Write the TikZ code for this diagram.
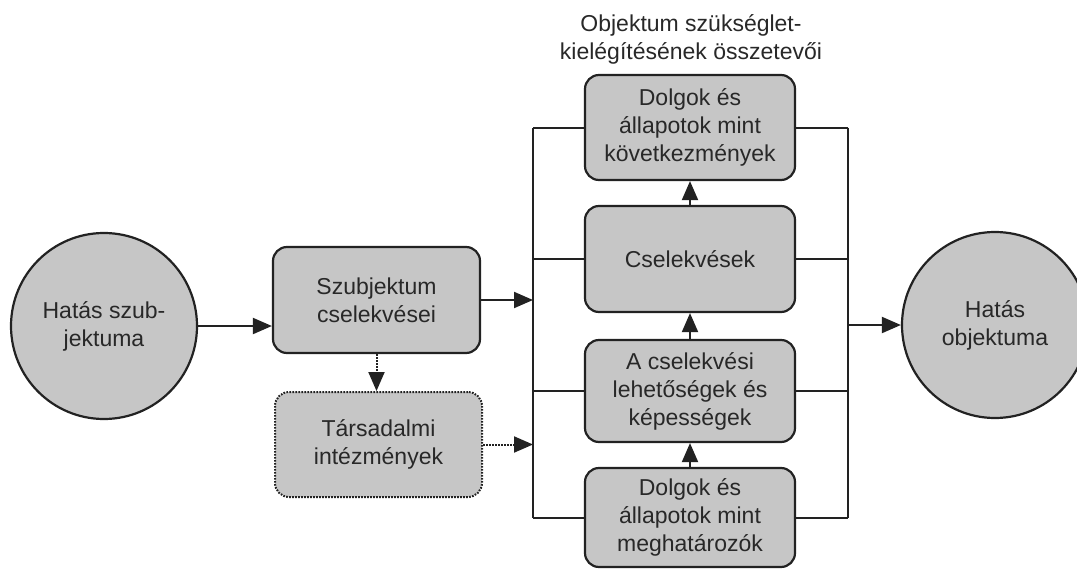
\documentclass[tikz,border=0pt]{standalone}
\usepackage{fontspec}
\setmainfont{Liberation Sans}
\usetikzlibrary{arrows.meta,calc}
\definecolor{fillg}{RGB}{198,198,198}
\definecolor{inkc}{RGB}{34,34,34}
\definecolor{txtc}{RGB}{40,40,40}
\begin{document}
\begin{tikzpicture}[x=1pt,y=-1pt,
  every node/.style={font=\fontsize{23}{28}\selectfont, text=txtc, align=center, inner sep=0pt},
  boxstyle/.style={draw=inkc, line width=2.2pt, fill=fillg, rounded corners=14pt, minimum width=#1},
  boxstyle/.default=210pt,
  dotbox/.style={draw=inkc, line width=2pt, fill=fillg, rounded corners=14pt, dash pattern=on 1.6pt off 1.4pt, minimum width=207pt},
  circ/.style={draw=inkc, line width=2.2pt, fill=fillg, circle, minimum size=186pt},
  conn/.style={draw=inkc, line width=2pt},
  arr/.style={conn, -{Triangle[length=19pt,width=16pt]}},
  dotarr/.style={arr, dash pattern=on 1.6pt off 1.4pt}
]
\useasboundingbox (0,0) rectangle (1077,570);
\begin{scope}
\clip (0,0) rectangle (1077,570);
% circles
\node[circ] (subj) at (104,326) {Hatás szub-\\jektuma};
\node[circ] (obj) at (995,325) {Hatás\\objektuma};
\end{scope}
% left boxes
\node[boxstyle=207pt, minimum height=106pt] (szcs) at (376.5,300) {Szubjektum\\cselekvései};
\node[dotbox, minimum height=105pt] (tars) at (378.5,444.5) {Társadalmi\\intézmények};
% center column
\node (title) at (691,39) {Objektum szükséglet-\\kielégítésének összetevői};
\node[boxstyle, minimum height=105pt] (b1) at (690,127.5) {Dolgok és\\állapotok mint\\következmények};
\node[boxstyle, minimum height=106pt] (b2) at (690,259) {Cselekvések};
\node[boxstyle, minimum height=102pt] (b3) at (690,391) {A cselekvési\\lehetőségek és\\képességek};
\node[boxstyle, minimum height=99pt] (b4) at (690,517.5) {Dolgok és\\állapotok mint\\meghatározók};
% buses
\coordinate (lbt) at (533,127.5);
\coordinate (lbb) at (533,517.5);
\coordinate (rbt) at (848,127.5);
\coordinate (rbb) at (848,517.5);
\draw[conn] (lbt) -- (lbb);
\draw[conn] (rbt) -- (rbb);
\foreach \b in {b1,b2,b3,b4}{
  \draw[conn] (\b.west) -- (\b.west -| lbt);
  \draw[conn] (\b.east) -- (\b.east -| rbt);
}
% arrows
\draw[arr] (subj.east) -- (subj.east -| szcs.west);
\draw[arr] (szcs.east) -- (szcs.east -| lbt);
\draw[dotarr] (szcs.south) -- (szcs.south |- tars.north);
\draw[dotarr] (tars.east) -- (tars.east -| lbt);
\draw[arr] (b4.north) -- (b3.south);
\draw[arr] (b3.north) -- (b2.south);
\draw[arr] (b2.north) -- (b1.south);
\draw[arr] (obj.west -| rbt) -- (obj.west);
\end{tikzpicture}
\end{document}
